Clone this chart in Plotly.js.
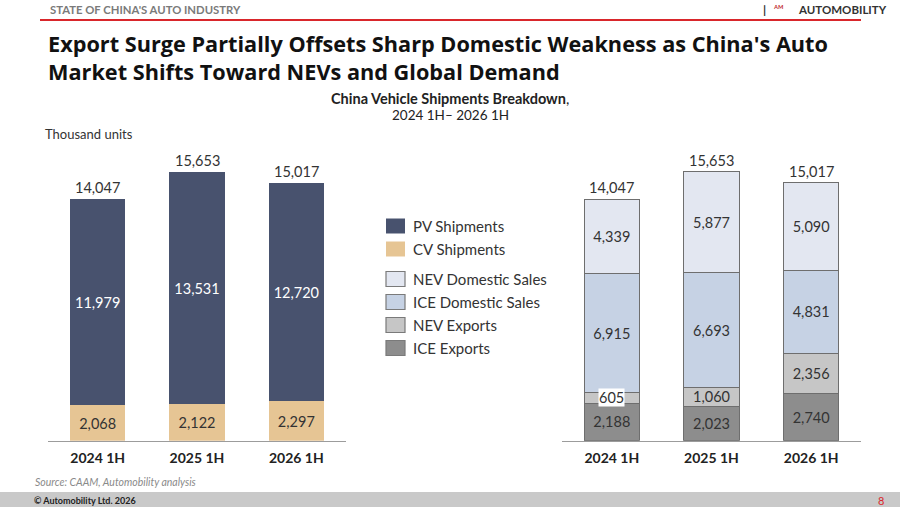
<!DOCTYPE html>
<html>
<head>
<meta charset="utf-8">
<script src="https://cdn.plot.ly/plotly-3.0.1.min.js"></script>
<style>
html,body{margin:0;padding:0;background:#fff;}
#chart{width:900px;height:507px;}
</style>
</head>
<body>
<div id="chart"></div>
<script>
// ---- Data ----
const categories = ['2024 1H', '2025 1H', '2026 1H'];
const pvShipments = [11979, 13531, 12720];
const cvShipments = [2068, 2122, 2297];
const iceExports = [2188, 2023, 2740];
const nevExports = [605, 1060, 2356];
const iceDomestic = [6915, 6693, 4831];
const nevDomestic = [4339, 5877, 5090];
const totals = [14047, 15653, 15017];

const legendLabels = ['PV Shipments', 'CV Shipments', 'NEV Domestic Sales', 'ICE Domestic Sales', 'NEV Exports', 'ICE Exports'];

// ---- Styling ----
const FONT = 'Lato, "Open Sans", sans-serif';
const TFONT = '"Open Sans", Lato, sans-serif';
const W = 900, H = 507;
const X = px => px / W;
const Y = py => 1 - py / H;
const fmt = v => v.toLocaleString('en-US');

const colPV = '#48526e', colCV = '#e6c594';
const colNevDom = '#e3e7f1', colIceDom = '#c6d2e4', colNevExp = '#c6c6c6', colIceExp = '#8d8d8d';
const outline = '#6e6e6e';
const SMALL = 800; // segments too thin for inside labels

function seg(name, vals, color, xa, ya, txtColor, bordered) {
  return {
    type: 'bar', name: name, x: categories, y: vals, xaxis: xa, yaxis: ya,
    marker: {color: color, line: {color: bordered ? outline : color, width: bordered ? 1 : 0}},
    text: vals.map(v => v >= SMALL ? fmt(v) : ''),
    textposition: 'inside', insidetextanchor: 'middle', constraintext: 'none',
    textfont: {family: FONT, size: 14.5, color: txtColor},
    hoverinfo: 'skip', width: 0.555, showlegend: false, cliponaxis: false
  };
}

const data = [
  seg('CV Shipments', cvShipments, colCV, 'x', 'y', '#333', false),
  seg('PV Shipments', pvShipments, colPV, 'x', 'y', '#ffffff', false),
  seg('ICE Exports', iceExports, colIceExp, 'x2', 'y2', '#333', true),
  seg('NEV Exports', nevExports, colNevExp, 'x2', 'y2', '#333', true),
  seg('ICE Domestic Sales', iceDomestic, colIceDom, 'x2', 'y2', '#333', true),
  seg('NEV Domestic Sales', nevDomestic, colNevDom, 'x2', 'y2', '#333', true)
];

const annotations = [];
const shapes = [];

// totals above bars
['x', 'x2'].forEach((xa, k) => {
  categories.forEach((c, i) => {
    annotations.push({xref: xa, yref: k ? 'y2' : 'y', x: c, y: totals[i], yanchor: 'bottom', yshift: 1,
      text: fmt(totals[i]), showarrow: false, font: {family: FONT, size: 14.5, color: '#333'}});
  });
});

// labels for thin segments (white box)
const rightStack = [iceExports, nevExports, iceDomestic, nevDomestic];
categories.forEach((c, i) => {
  let base = 0;
  rightStack.forEach(arr => {
    const v = arr[i];
    if (v < SMALL) {
      annotations.push({xref: 'x2', yref: 'y2', x: c, y: base + v / 2, text: fmt(v), showarrow: false,
        bgcolor: '#ffffff', borderpad: 0, font: {family: FONT, size: 14.5, color: '#333'}});
    }
    base += v;
  });
});

// header
annotations.push({xref: 'paper', yref: 'paper', x: X(48), y: Y(10), xanchor: 'left', yanchor: 'middle',
  text: "STATE OF CHINA'S AUTO INDUSTRY", showarrow: false,
  font: {family: FONT, size: 11.3, color: '#7a7a7a', weight: 'bold'}});
shapes.push({type: 'line', xref: 'paper', yref: 'paper', x0: X(40), x1: X(861), y0: Y(20), y1: Y(20),
  line: {color: '#d9262b', width: 2}});
annotations.push({xref: 'paper', yref: 'paper', x: X(764), y: Y(10), xanchor: 'center', yanchor: 'middle',
  text: '|', showarrow: false, font: {family: FONT, size: 12, color: '#333', weight: 'bold'}});
annotations.push({xref: 'paper', yref: 'paper', x: X(779), y: Y(10), xanchor: 'center', yanchor: 'middle',
  text: 'ᴬᴹ', showarrow: false, font: {family: FONT, size: 11, color: '#c0282d'}});
annotations.push({xref: 'paper', yref: 'paper', x: X(889), y: Y(10), xanchor: 'right', yanchor: 'middle',
  text: 'AUTOMOBILITY', showarrow: false, font: {family: FONT, size: 11.5, color: '#333', weight: 'bold'}});

// main title
annotations.push({xref: 'paper', yref: 'paper', x: X(46), y: Y(27), xanchor: 'left', yanchor: 'top', align: 'left',
  text: "Export Surge Partially Offsets Sharp Domestic Weakness as China's Auto<br>Market Shifts Toward NEVs and Global Demand",
  showarrow: false, font: {family: TFONT, size: 21.7, color: '#111', weight: 'bold'}});

// subtitle
annotations.push({xref: 'paper', yref: 'paper', x: 0.5, y: Y(98), xanchor: 'center', yanchor: 'middle',
  text: '<b>China Vehicle Shipments Breakdown</b>,', showarrow: false,
  font: {family: FONT, size: 14.5, color: '#222'}});
annotations.push({xref: 'paper', yref: 'paper', x: 0.5, y: Y(115), xanchor: 'center', yanchor: 'middle',
  text: '2024 1H– 2026 1H', showarrow: false, font: {family: FONT, size: 13.5, color: '#222'}});
annotations.push({xref: 'paper', yref: 'paper', x: X(43), y: Y(134), xanchor: 'left', yanchor: 'middle',
  text: 'Thousand units', showarrow: false, font: {family: FONT, size: 13, color: '#333'}});

// custom legend
const legendColors = [colPV, colCV, colNevDom, colIceDom, colNevExp, colIceExp];
const legendY = [226, 249, 279, 302, 325, 348];
legendLabels.forEach((lab, i) => {
  const bordered = i >= 2;
  shapes.push({type: 'rect', xref: 'paper', yref: 'paper', x0: X(386), x1: X(405),
    y0: Y(legendY[i] - 7.5), y1: Y(legendY[i] + 7.5), fillcolor: legendColors[i],
    line: {color: bordered ? '#7a7a7a' : legendColors[i], width: bordered ? 1.2 : 0}});
  annotations.push({xref: 'paper', yref: 'paper', x: X(411), y: Y(legendY[i]), xanchor: 'left', yanchor: 'middle',
    text: lab, showarrow: false, font: {family: FONT, size: 15, color: '#333'}});
});

// footer
shapes.push({type: 'rect', xref: 'paper', yref: 'paper', x0: 0, x1: 1, y0: 0, y1: Y(492),
  fillcolor: '#c9c9c9', line: {width: 0}, layer: 'below'});
annotations.push({xref: 'paper', yref: 'paper', x: X(33), y: Y(482), xanchor: 'left', yanchor: 'middle',
  text: '<i>Source: CAAM, Automobility analysis</i>', showarrow: false, font: {family: FONT, size: 10.5, color: '#8a8a8a'}});
annotations.push({xref: 'paper', yref: 'paper', x: X(32), y: Y(500), xanchor: 'left', yanchor: 'middle',
  text: '© Automobility Ltd. 2026', showarrow: false, font: {family: FONT, size: 9, color: '#222', weight: 'bold'}});
annotations.push({xref: 'paper', yref: 'paper', x: X(881), y: Y(500), xanchor: 'center', yanchor: 'middle',
  text: '8', showarrow: false, font: {family: FONT, size: 11, color: '#d9262b'}});

const yDomain = [Y(440.8), Y(157.2)];
const xAxisCommon = {
  type: 'category', range: [-0.5, 2.5], showline: true, linecolor: '#9c9c9c', linewidth: 1.5,
  ticks: '', showgrid: false, zeroline: false, fixedrange: true, ticklabelstandoff: 4,
  tickfont: {family: FONT, size: 14, color: '#222', weight: 'bold'}
};
const yAxisCommon = {range: [0, 16500], visible: false, showgrid: false, zeroline: false, fixedrange: true, domain: yDomain};

const layout = {
  width: W, height: H, margin: {l: 0, r: 0, t: 0, b: 0},
  paper_bgcolor: '#ffffff', plot_bgcolor: 'rgba(0,0,0,0)',
  barmode: 'stack', bargap: 0.445, showlegend: false,
  font: {family: FONT},
  xaxis: Object.assign({}, xAxisCommon, {domain: [X(48), X(346)], anchor: 'y'}),
  yaxis: Object.assign({}, yAxisCommon, {anchor: 'x'}),
  xaxis2: Object.assign({}, xAxisCommon, {domain: [X(562), X(861)], anchor: 'y2'}),
  yaxis2: Object.assign({}, yAxisCommon, {anchor: 'x2'}),
  annotations: annotations, shapes: shapes
};

Plotly.newPlot('chart', data, layout, {displayModeBar: false, staticPlot: true});
</script>
</body>
</html>
